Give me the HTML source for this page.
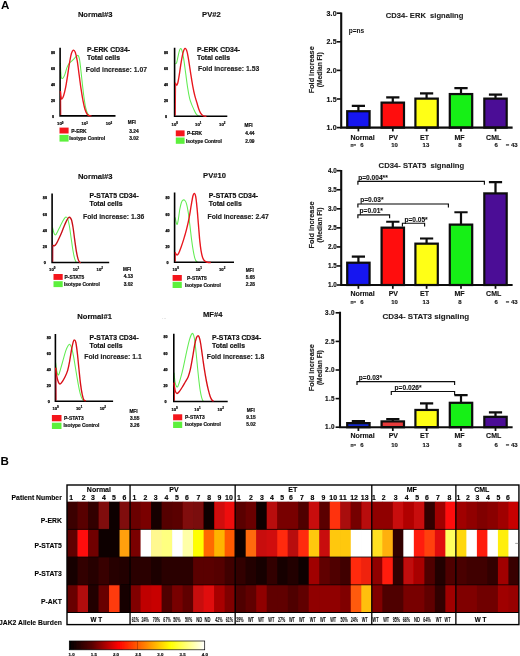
<!DOCTYPE html>
<html lang="en">
<head>
<meta charset="utf-8">
<title>Figure: phospho-flow signaling in CD34- cells</title>
<style>
html,body{margin:0;padding:0;background:#fff;}
body{width:520px;height:656px;overflow:hidden;font-family:'Liberation Sans', sans-serif;}
svg{display:block;}
svg text{font-family:'Liberation Sans', sans-serif;}
</style>
</head>
<body>
<svg width="520" height="656" viewBox="0 0 520 656">
<defs>
<linearGradient id="hot" x1="0" x2="1" y1="0" y2="0">
<stop offset="0" stop-color="#000"/><stop offset="0.17" stop-color="#5a0000"/><stop offset="0.365" stop-color="#ff0000"/><stop offset="0.55" stop-color="#ff7a00"/><stop offset="0.746" stop-color="#ffff00"/><stop offset="1" stop-color="#fff"/>
</linearGradient>
<filter id="soft" x="-2%" y="-2%" width="104%" height="104%"><feGaussianBlur stdDeviation="0.22"/></filter>
</defs>
<rect width="520" height="656" fill="#fff"/>
<g filter="url(#soft)">
<text x="0.90" y="8.50" font-size="11.6" text-anchor="start" font-weight="bold" fill="#000" >A</text>
<text x="95.20" y="17.40" font-size="7.6" text-anchor="middle" font-weight="bold" fill="#111" stroke="#111" stroke-width="0.15">Normal#3</text>
<text x="211.40" y="17.10" font-size="7.6" text-anchor="middle" font-weight="bold" fill="#111" stroke="#111" stroke-width="0.15">PV#2</text>
<text x="95.20" y="179.20" font-size="7.6" text-anchor="middle" font-weight="bold" fill="#111" stroke="#111" stroke-width="0.15">Normal#3</text>
<text x="214.50" y="178.10" font-size="7.6" text-anchor="middle" font-weight="bold" fill="#111" stroke="#111" stroke-width="0.15">PV#10</text>
<text x="94.60" y="318.50" font-size="7.6" text-anchor="middle" font-weight="bold" fill="#111" stroke="#111" stroke-width="0.15">Normal#1</text>
<text x="212.70" y="317.30" font-size="7.6" text-anchor="middle" font-weight="bold" fill="#111" stroke="#111" stroke-width="0.15">MF#4</text>
<text x="162.00" y="318.60" font-size="5" text-anchor="start" font-weight="normal" fill="#aaa" >...</text>
<path d="M60.36,63.32 C60.43,64.61 60.58,68.71 60.75,71.09 C60.92,73.46 61.03,76.38 61.40,77.56 C61.77,78.75 62.37,78.75 62.95,78.21 C63.54,77.67 64.25,76.05 64.90,74.33 C65.54,72.60 66.19,69.58 66.84,67.85 C67.49,66.12 68.03,65.04 68.78,63.96 C69.54,62.88 70.51,62.24 71.37,61.37 C72.24,60.51 73.10,59.65 73.96,58.78 C74.83,57.92 75.84,56.73 76.55,56.19 C77.27,55.65 77.74,55.00 78.24,55.54 C78.73,56.08 79.10,57.06 79.53,59.43 C79.97,61.80 80.35,65.69 80.83,69.79 C81.30,73.89 81.87,79.51 82.38,84.04 C82.90,88.58 83.40,93.11 83.94,96.99 C84.48,100.88 85.02,104.59 85.62,107.36 C86.23,110.12 86.92,112.22 87.56,113.58 C88.21,114.94 88.90,115.13 89.51,115.52 C90.11,115.91 90.91,115.84 91.19,115.91" fill="none" stroke="#62ec52" stroke-width="1.05" stroke-linejoin="round"/>
<path d="M60.1,47.8 V115.9 H115.5" fill="none" stroke="#000" stroke-width="1.6"/>
<path d="M60.85,115.10 L60.66,91.17" fill="none" stroke="#e8141c" stroke-width="1.0" opacity="0.85"/>
<path d="M60.36,91.17 C60.47,92.14 60.75,95.70 61.01,96.99 C61.27,98.29 61.49,99.15 61.92,98.94 C62.35,98.72 63.00,97.53 63.60,95.70 C64.21,93.86 64.90,91.17 65.54,87.93 C66.19,84.69 66.84,80.37 67.49,76.27 C68.13,72.17 68.78,67.09 69.43,63.32 C70.08,59.54 70.73,55.80 71.37,53.60 C72.02,51.40 72.67,50.32 73.32,50.10 C73.96,49.89 74.61,50.54 75.26,52.31 C75.91,54.08 76.55,56.95 77.20,60.73 C77.85,64.50 78.50,70.22 79.15,74.97 C79.79,79.72 80.44,84.91 81.09,89.22 C81.74,93.54 82.38,97.53 83.03,100.88 C83.68,104.23 84.33,107.14 84.97,109.30 C85.62,111.46 86.27,112.80 86.92,113.83 C87.56,114.87 88.10,115.17 88.86,115.52 C89.62,115.86 91.02,115.84 91.45,115.91" fill="none" stroke="#e8141c" stroke-width="1.35" stroke-linejoin="round"/>
<text x="53.00" y="54.10" font-size="3.7" text-anchor="middle" font-weight="bold" fill="#000" stroke="#000" stroke-width="0.25">80</text>
<text x="53.00" y="70.00" font-size="3.7" text-anchor="middle" font-weight="bold" fill="#000" stroke="#000" stroke-width="0.25">60</text>
<text x="53.00" y="86.20" font-size="3.7" text-anchor="middle" font-weight="bold" fill="#000" stroke="#000" stroke-width="0.25">40</text>
<text x="53.00" y="101.80" font-size="3.7" text-anchor="middle" font-weight="bold" fill="#000" stroke="#000" stroke-width="0.25">20</text>
<text x="53.00" y="117.80" font-size="3.7" text-anchor="middle" font-weight="bold" fill="#000" stroke="#000" stroke-width="0.25">0</text>
<text x="57.10" y="125.30" font-size="4.2" font-weight="bold" fill="#000" stroke="#000" stroke-width="0.2">10<tspan dy="-1.8" font-size="3">0</tspan></text>
<text x="81.60" y="125.30" font-size="4.2" font-weight="bold" fill="#000" stroke="#000" stroke-width="0.2">10<tspan dy="-1.8" font-size="3">1</tspan></text>
<text x="105.80" y="125.30" font-size="4.2" font-weight="bold" fill="#000" stroke="#000" stroke-width="0.2">10<tspan dy="-1.8" font-size="3">2</tspan></text>
<text x="87.00" y="51.80" font-size="6.85" text-anchor="start" font-weight="bold" fill="#111" stroke="#111" stroke-width="0.18">P-ERK CD34-</text>
<text x="87.00" y="59.70" font-size="6.85" text-anchor="start" font-weight="bold" fill="#111" stroke="#111" stroke-width="0.18">Total cells</text>
<text x="85.80" y="71.50" font-size="6.8" text-anchor="start" font-weight="bold" fill="#222" stroke="#222" stroke-width="0.15">Fold increase: 1.07</text>
<rect x="59.5" y="127.6" width="9.1" height="5.9" fill="#f4141c"/>
<rect x="59.5" y="134.9" width="9.1" height="6.7" fill="#5cf03c"/>
<text x="71.30" y="132.95" font-size="4.9" text-anchor="start" font-weight="bold" fill="#111" stroke="#111" stroke-width="0.2">P-ERK</text>
<text x="69.20" y="139.65" font-size="4.9" text-anchor="start" font-weight="bold" fill="#111" stroke="#111" stroke-width="0.2">Isotype Control</text>
<text x="127.80" y="124.40" font-size="4.7" text-anchor="start" font-weight="bold" fill="#111" stroke="#111" stroke-width="0.2">MFI</text>
<text x="129.30" y="132.90" font-size="4.8" text-anchor="start" font-weight="bold" fill="#111" stroke="#111" stroke-width="0.2">3.24</text>
<text x="129.30" y="139.60" font-size="4.8" text-anchor="start" font-weight="bold" fill="#111" stroke="#111" stroke-width="0.2">3.02</text>
<path d="M175.36,63.96 C175.58,63.75 176.23,63.86 176.66,62.67 C177.09,61.48 177.48,58.89 177.95,56.84 C178.43,54.79 179.03,51.77 179.51,50.36 C179.98,48.96 180.37,48.31 180.80,48.42 C181.23,48.53 181.60,49.18 182.10,51.01 C182.59,52.85 183.18,55.65 183.78,59.43 C184.39,63.21 185.08,68.93 185.73,73.68 C186.37,78.43 187.02,83.83 187.67,87.93 C188.32,92.03 188.96,95.59 189.61,98.29 C190.26,100.99 190.91,102.39 191.55,104.12 C192.20,105.85 192.74,107.03 193.50,108.65 C194.25,110.27 195.22,112.60 196.09,113.83 C196.95,115.06 197.82,115.60 198.68,116.04 C199.54,116.47 200.84,116.36 201.27,116.42" fill="none" stroke="#62ec52" stroke-width="1.05" stroke-linejoin="round"/>
<path d="M174.6,47.8 V116.3 H227.3" fill="none" stroke="#000" stroke-width="1.6"/>
<path d="M175.35,115.50 L175.66,82.75" fill="none" stroke="#e8141c" stroke-width="1.0" opacity="0.85"/>
<path d="M175.36,82.75 C175.54,83.13 176.01,84.97 176.40,85.08 C176.79,85.19 177.22,85.08 177.69,83.39 C178.17,81.71 178.67,78.54 179.25,74.97 C179.83,71.41 180.54,65.80 181.19,62.02 C181.84,58.24 182.49,54.57 183.13,52.31 C183.78,50.04 184.43,48.53 185.08,48.42 C185.73,48.31 186.37,49.39 187.02,51.66 C187.67,53.92 188.32,58.13 188.96,62.02 C189.61,65.91 190.26,70.87 190.91,74.97 C191.55,79.08 192.20,83.18 192.85,86.63 C193.50,90.09 194.15,93.11 194.79,95.70 C195.44,98.29 196.09,100.02 196.74,102.18 C197.38,104.34 198.03,106.82 198.68,108.65 C199.33,110.49 199.87,112.00 200.62,113.19 C201.38,114.37 202.24,115.24 203.21,115.78 C204.18,116.32 205.91,116.32 206.45,116.42" fill="none" stroke="#e8141c" stroke-width="1.35" stroke-linejoin="round"/>
<text x="166.00" y="54.10" font-size="3.7" text-anchor="middle" font-weight="bold" fill="#000" stroke="#000" stroke-width="0.25">80</text>
<text x="166.00" y="70.00" font-size="3.7" text-anchor="middle" font-weight="bold" fill="#000" stroke="#000" stroke-width="0.25">60</text>
<text x="166.00" y="86.20" font-size="3.7" text-anchor="middle" font-weight="bold" fill="#000" stroke="#000" stroke-width="0.25">40</text>
<text x="166.00" y="101.80" font-size="3.7" text-anchor="middle" font-weight="bold" fill="#000" stroke="#000" stroke-width="0.25">20</text>
<text x="166.00" y="118.00" font-size="3.7" text-anchor="middle" font-weight="bold" fill="#000" stroke="#000" stroke-width="0.25">0</text>
<text x="171.60" y="125.70" font-size="4.2" font-weight="bold" fill="#000" stroke="#000" stroke-width="0.2">10<tspan dy="-1.8" font-size="3">0</tspan></text>
<text x="195.10" y="125.70" font-size="4.2" font-weight="bold" fill="#000" stroke="#000" stroke-width="0.2">10<tspan dy="-1.8" font-size="3">1</tspan></text>
<text x="219.10" y="125.70" font-size="4.2" font-weight="bold" fill="#000" stroke="#000" stroke-width="0.2">10<tspan dy="-1.8" font-size="3">2</tspan></text>
<text x="197.00" y="51.80" font-size="6.85" text-anchor="start" font-weight="bold" fill="#111" stroke="#111" stroke-width="0.18">P-ERK CD34-</text>
<text x="197.00" y="59.70" font-size="6.85" text-anchor="start" font-weight="bold" fill="#111" stroke="#111" stroke-width="0.18">Total cells</text>
<text x="198.00" y="70.60" font-size="6.8" text-anchor="start" font-weight="bold" fill="#222" stroke="#222" stroke-width="0.15">Fold increase: 1.53</text>
<rect x="175.8" y="130.4" width="8.8" height="5.9" fill="#f4141c"/>
<rect x="175.8" y="137.5" width="8.8" height="6.3" fill="#5cf03c"/>
<text x="186.90" y="135.45" font-size="4.9" text-anchor="start" font-weight="bold" fill="#111" stroke="#111" stroke-width="0.2">P-ERK</text>
<text x="186.00" y="142.55" font-size="4.9" text-anchor="start" font-weight="bold" fill="#111" stroke="#111" stroke-width="0.2">Isotype Control</text>
<text x="244.60" y="127.30" font-size="4.7" text-anchor="start" font-weight="bold" fill="#111" stroke="#111" stroke-width="0.2">MFI</text>
<text x="245.20" y="135.40" font-size="4.8" text-anchor="start" font-weight="bold" fill="#111" stroke="#111" stroke-width="0.2">4.44</text>
<text x="245.20" y="142.50" font-size="4.8" text-anchor="start" font-weight="bold" fill="#111" stroke="#111" stroke-width="0.2">2.09</text>
<path d="M52.62,227.75 C52.84,228.61 53.42,231.74 53.92,232.93 C54.41,234.11 55.00,235.09 55.60,234.87 C56.21,234.65 56.79,233.04 57.54,231.63 C58.30,230.23 59.27,228.18 60.13,226.45 C61.00,224.72 61.97,222.67 62.73,221.27 C63.48,219.87 64.06,218.72 64.67,218.03 C65.27,217.34 65.81,216.91 66.35,217.12 C66.89,217.34 67.39,217.77 67.91,219.33 C68.42,220.88 68.92,223.32 69.46,226.45 C70.00,229.58 70.58,234.22 71.15,238.11 C71.71,241.99 72.29,246.53 72.83,249.77 C73.37,253.01 73.87,255.55 74.38,257.54 C74.90,259.53 75.46,260.82 75.94,261.68 C76.41,262.55 77.02,262.55 77.23,262.72" fill="none" stroke="#62ec52" stroke-width="1.05" stroke-linejoin="round"/>
<path d="M52.1,193.5 V262.5 H109.2" fill="none" stroke="#000" stroke-width="1.6"/>
<path d="M52.85,261.70 L52.92,245.23" fill="none" stroke="#c80c14" stroke-width="1.0" opacity="0.85"/>
<path d="M52.62,245.23 C52.90,245.34 53.70,246.10 54.31,245.88 C54.91,245.66 55.49,245.13 56.25,243.94 C57.00,242.75 57.98,240.59 58.84,238.76 C59.70,236.92 60.57,234.98 61.43,232.93 C62.29,230.88 63.16,228.50 64.02,226.45 C64.88,224.40 65.86,222.09 66.61,220.62 C67.37,219.15 68.01,218.18 68.55,217.64 C69.09,217.10 69.35,216.99 69.85,217.38 C70.35,217.77 70.99,218.25 71.53,219.97 C72.07,221.70 72.57,224.51 73.09,227.75 C73.61,230.98 74.10,235.52 74.64,239.40 C75.18,243.29 75.77,247.82 76.33,251.06 C76.89,254.30 77.47,257.00 78.01,258.83 C78.55,260.67 79.09,261.42 79.56,262.07 C80.04,262.72 80.64,262.61 80.86,262.72" fill="none" stroke="#c80c14" stroke-width="1.35" stroke-linejoin="round"/>
<text x="44.90" y="199.30" font-size="3.7" text-anchor="middle" font-weight="bold" fill="#000" stroke="#000" stroke-width="0.25">80</text>
<text x="44.90" y="215.50" font-size="3.7" text-anchor="middle" font-weight="bold" fill="#000" stroke="#000" stroke-width="0.25">60</text>
<text x="44.90" y="231.80" font-size="3.7" text-anchor="middle" font-weight="bold" fill="#000" stroke="#000" stroke-width="0.25">40</text>
<text x="44.90" y="248.00" font-size="3.7" text-anchor="middle" font-weight="bold" fill="#000" stroke="#000" stroke-width="0.25">20</text>
<text x="44.90" y="264.30" font-size="3.7" text-anchor="middle" font-weight="bold" fill="#000" stroke="#000" stroke-width="0.25">0</text>
<text x="49.10" y="271.10" font-size="4.2" font-weight="bold" fill="#000" stroke="#000" stroke-width="0.2">10<tspan dy="-1.8" font-size="3">0</tspan></text>
<text x="72.80" y="271.10" font-size="4.2" font-weight="bold" fill="#000" stroke="#000" stroke-width="0.2">10<tspan dy="-1.8" font-size="3">1</tspan></text>
<text x="96.60" y="271.10" font-size="4.2" font-weight="bold" fill="#000" stroke="#000" stroke-width="0.2">10<tspan dy="-1.8" font-size="3">2</tspan></text>
<text x="89.50" y="198.20" font-size="6.85" text-anchor="start" font-weight="bold" fill="#111" stroke="#111" stroke-width="0.18">P-STAT5 CD34-</text>
<text x="89.50" y="206.10" font-size="6.85" text-anchor="start" font-weight="bold" fill="#111" stroke="#111" stroke-width="0.18">Total cells</text>
<text x="83.00" y="218.90" font-size="6.8" text-anchor="start" font-weight="bold" fill="#222" stroke="#222" stroke-width="0.15">Fold increase: 1.36</text>
<rect x="53.5" y="274" width="9.2" height="5.9" fill="#f4141c"/>
<rect x="53.5" y="281.2" width="9.2" height="5.9" fill="#5cf03c"/>
<text x="64.60" y="279.05" font-size="4.9" text-anchor="start" font-weight="bold" fill="#111" stroke="#111" stroke-width="0.2">P-STAT5</text>
<text x="64.00" y="285.95" font-size="4.9" text-anchor="start" font-weight="bold" fill="#111" stroke="#111" stroke-width="0.2">Isotype Control</text>
<text x="123.00" y="270.90" font-size="4.7" text-anchor="start" font-weight="bold" fill="#111" stroke="#111" stroke-width="0.2">MFI</text>
<text x="123.70" y="278.20" font-size="4.8" text-anchor="start" font-weight="bold" fill="#111" stroke="#111" stroke-width="0.2">4.13</text>
<text x="123.70" y="285.90" font-size="4.8" text-anchor="start" font-weight="bold" fill="#111" stroke="#111" stroke-width="0.2">3.02</text>
<path d="M175.09,217.30 C175.32,218.31 176.06,222.24 176.44,223.36 C176.82,224.48 177.05,224.82 177.38,224.03 C177.72,223.25 178.06,221.11 178.46,218.65 C178.86,216.18 179.31,211.92 179.80,209.23 C180.30,206.53 180.86,204.02 181.42,202.50 C181.98,200.97 182.59,200.41 183.17,200.07 C183.75,199.74 184.36,199.85 184.92,200.48 C185.48,201.11 186.00,201.94 186.53,203.84 C187.07,205.75 187.59,208.33 188.15,211.92 C188.71,215.51 189.32,220.67 189.90,225.38 C190.48,230.09 191.09,235.92 191.65,240.18 C192.21,244.44 192.73,247.92 193.26,250.95 C193.80,253.98 194.32,256.56 194.88,258.35 C195.44,260.15 196.00,261.02 196.63,261.72 C197.26,262.41 198.31,262.39 198.65,262.52" fill="none" stroke="#62ec52" stroke-width="1.05" stroke-linejoin="round"/>
<path d="M174.6,192.4 V262.3 H234" fill="none" stroke="#000" stroke-width="1.6"/>
<path d="M175.35,261.50 L175.39,252.29" fill="none" stroke="#e8141c" stroke-width="1.0" opacity="0.85"/>
<path d="M175.09,252.29 C175.39,252.74 176.28,254.76 176.84,254.99 C177.40,255.21 177.74,254.99 178.46,253.64 C179.18,252.29 180.25,249.38 181.15,246.91 C182.05,244.44 182.95,241.75 183.84,238.84 C184.74,235.92 185.64,233.00 186.53,229.41 C187.43,225.83 188.44,221.34 189.23,217.30 C190.01,213.26 190.62,208.78 191.24,205.19 C191.87,201.60 192.48,197.74 192.99,195.77 C193.51,193.79 193.89,193.23 194.34,193.34 C194.79,193.46 195.24,194.02 195.69,196.44 C196.14,198.86 196.58,203.28 197.03,207.88 C197.48,212.48 197.93,218.65 198.38,224.03 C198.83,229.41 199.28,235.70 199.72,240.18 C200.17,244.67 200.58,248.03 201.07,250.95 C201.56,253.86 202.08,256.00 202.69,257.68 C203.29,259.36 203.92,260.28 204.70,261.04 C205.49,261.81 206.39,262.01 207.40,262.25 C208.41,262.50 210.20,262.48 210.76,262.52" fill="none" stroke="#e8141c" stroke-width="1.35" stroke-linejoin="round"/>
<text x="167.50" y="199.30" font-size="3.7" text-anchor="middle" font-weight="bold" fill="#000" stroke="#000" stroke-width="0.25">80</text>
<text x="167.50" y="215.50" font-size="3.7" text-anchor="middle" font-weight="bold" fill="#000" stroke="#000" stroke-width="0.25">60</text>
<text x="167.50" y="231.80" font-size="3.7" text-anchor="middle" font-weight="bold" fill="#000" stroke="#000" stroke-width="0.25">40</text>
<text x="167.50" y="248.00" font-size="3.7" text-anchor="middle" font-weight="bold" fill="#000" stroke="#000" stroke-width="0.25">20</text>
<text x="167.50" y="264.30" font-size="3.7" text-anchor="middle" font-weight="bold" fill="#000" stroke="#000" stroke-width="0.25">0</text>
<text x="172.50" y="270.50" font-size="4.2" font-weight="bold" fill="#000" stroke="#000" stroke-width="0.2">10<tspan dy="-1.8" font-size="3">0</tspan></text>
<text x="195.70" y="270.50" font-size="4.2" font-weight="bold" fill="#000" stroke="#000" stroke-width="0.2">10<tspan dy="-1.8" font-size="3">1</tspan></text>
<text x="219.00" y="270.50" font-size="4.2" font-weight="bold" fill="#000" stroke="#000" stroke-width="0.2">10<tspan dy="-1.8" font-size="3">2</tspan></text>
<text x="208.80" y="198.20" font-size="6.85" text-anchor="start" font-weight="bold" fill="#111" stroke="#111" stroke-width="0.18">P-STAT5 CD34-</text>
<text x="208.80" y="206.10" font-size="6.85" text-anchor="start" font-weight="bold" fill="#111" stroke="#111" stroke-width="0.18">Total cells</text>
<text x="207.50" y="218.90" font-size="6.8" text-anchor="start" font-weight="bold" fill="#222" stroke="#222" stroke-width="0.15">Fold increase: 2.47</text>
<rect x="172.6" y="275" width="9.2" height="5.8" fill="#f4141c"/>
<rect x="172.6" y="281.8" width="9.2" height="6.2" fill="#5cf03c"/>
<text x="187.00" y="279.65" font-size="4.9" text-anchor="start" font-weight="bold" fill="#111" stroke="#111" stroke-width="0.2">P-STAT5</text>
<text x="185.00" y="286.65" font-size="4.9" text-anchor="start" font-weight="bold" fill="#111" stroke="#111" stroke-width="0.2">Isotype Control</text>
<text x="245.70" y="272.40" font-size="4.7" text-anchor="start" font-weight="bold" fill="#111" stroke="#111" stroke-width="0.2">MFI</text>
<text x="245.70" y="279.20" font-size="4.8" text-anchor="start" font-weight="bold" fill="#111" stroke="#111" stroke-width="0.2">5.65</text>
<text x="245.70" y="286.20" font-size="4.8" text-anchor="start" font-weight="bold" fill="#111" stroke="#111" stroke-width="0.2">2.28</text>
<path d="M55.62,362.56 C55.84,364.08 56.42,369.58 56.92,371.63 C57.41,373.68 58.00,375.30 58.60,374.87 C59.21,374.44 59.79,371.52 60.54,369.04 C61.30,366.56 62.27,363.00 63.13,359.97 C64.00,356.95 64.91,353.28 65.73,350.91 C66.55,348.53 67.37,346.80 68.06,345.73 C68.75,344.65 69.29,344.11 69.87,344.43 C70.45,344.75 70.95,345.73 71.55,347.67 C72.16,349.61 72.85,352.74 73.50,356.09 C74.15,359.43 74.79,363.86 75.44,367.75 C76.09,371.63 76.74,375.73 77.38,379.40 C78.03,383.07 78.68,386.85 79.33,389.77 C79.97,392.68 80.62,395.12 81.27,396.89 C81.92,398.66 82.56,399.70 83.21,400.39 C83.86,401.08 84.83,400.93 85.16,401.04" fill="none" stroke="#62ec52" stroke-width="1.05" stroke-linejoin="round"/>
<path d="M55.4,334 V401.2 H113.1" fill="none" stroke="#000" stroke-width="1.6"/>
<path d="M56.15,400.40 L55.92,367.75" fill="none" stroke="#d80c14" stroke-width="1.0" opacity="0.85"/>
<path d="M55.62,367.75 C55.84,369.26 56.42,374.33 56.92,376.81 C57.41,379.30 58.04,381.46 58.60,382.64 C59.16,383.83 59.64,384.15 60.28,383.94 C60.93,383.72 61.69,382.53 62.49,381.35 C63.29,380.16 64.21,378.65 65.08,376.81 C65.94,374.98 66.91,372.93 67.67,370.34 C68.42,367.75 68.96,364.72 69.61,361.27 C70.26,357.82 70.95,352.85 71.55,349.61 C72.16,346.37 72.74,343.46 73.24,341.84 C73.73,340.22 74.10,339.79 74.53,339.90 C74.97,340.00 75.35,340.22 75.83,342.49 C76.30,344.75 76.87,349.07 77.38,353.50 C77.90,357.92 78.40,363.86 78.94,369.04 C79.48,374.22 80.06,380.27 80.62,384.59 C81.18,388.90 81.77,392.40 82.31,394.95 C82.85,397.50 83.28,398.86 83.86,399.87 C84.44,400.89 85.48,400.84 85.80,401.04" fill="none" stroke="#d80c14" stroke-width="1.35" stroke-linejoin="round"/>
<text x="48.80" y="339.30" font-size="3.7" text-anchor="middle" font-weight="bold" fill="#000" stroke="#000" stroke-width="0.25">80</text>
<text x="48.80" y="355.10" font-size="3.7" text-anchor="middle" font-weight="bold" fill="#000" stroke="#000" stroke-width="0.25">60</text>
<text x="48.80" y="371.10" font-size="3.7" text-anchor="middle" font-weight="bold" fill="#000" stroke="#000" stroke-width="0.25">40</text>
<text x="48.80" y="386.80" font-size="3.7" text-anchor="middle" font-weight="bold" fill="#000" stroke="#000" stroke-width="0.25">20</text>
<text x="48.80" y="403.10" font-size="3.7" text-anchor="middle" font-weight="bold" fill="#000" stroke="#000" stroke-width="0.25">0</text>
<text x="52.40" y="410.20" font-size="4.2" font-weight="bold" fill="#000" stroke="#000" stroke-width="0.2">10<tspan dy="-1.8" font-size="3">0</tspan></text>
<text x="76.00" y="410.20" font-size="4.2" font-weight="bold" fill="#000" stroke="#000" stroke-width="0.2">10<tspan dy="-1.8" font-size="3">1</tspan></text>
<text x="99.70" y="410.20" font-size="4.2" font-weight="bold" fill="#000" stroke="#000" stroke-width="0.2">10<tspan dy="-1.8" font-size="3">2</tspan></text>
<text x="89.50" y="339.70" font-size="6.85" text-anchor="start" font-weight="bold" fill="#111" stroke="#111" stroke-width="0.18">P-STAT3 CD34-</text>
<text x="89.50" y="347.60" font-size="6.85" text-anchor="start" font-weight="bold" fill="#111" stroke="#111" stroke-width="0.18">Total cells</text>
<text x="84.30" y="358.90" font-size="6.8" text-anchor="start" font-weight="bold" fill="#222" stroke="#222" stroke-width="0.15">Fold increase: 1.1</text>
<rect x="51.9" y="415" width="9.6" height="6.3" fill="#f4141c"/>
<rect x="51.9" y="422.7" width="9.6" height="6.3" fill="#5cf03c"/>
<text x="64.00" y="420.25" font-size="4.9" text-anchor="start" font-weight="bold" fill="#111" stroke="#111" stroke-width="0.2">P-STAT3</text>
<text x="63.50" y="427.35" font-size="4.9" text-anchor="start" font-weight="bold" fill="#111" stroke="#111" stroke-width="0.2">Isotype Control</text>
<text x="129.40" y="412.50" font-size="4.7" text-anchor="start" font-weight="bold" fill="#111" stroke="#111" stroke-width="0.2">MFI</text>
<text x="130.00" y="419.60" font-size="4.8" text-anchor="start" font-weight="bold" fill="#111" stroke="#111" stroke-width="0.2">3.55</text>
<text x="130.00" y="426.90" font-size="4.8" text-anchor="start" font-weight="bold" fill="#111" stroke="#111" stroke-width="0.2">3.26</text>
<path d="M173.99,372.60 C174.18,374.28 174.64,380.29 175.14,382.70 C175.65,385.10 176.42,386.78 177.02,387.02 C177.62,387.26 178.10,385.82 178.75,384.14 C179.40,382.45 180.19,379.57 180.91,376.93 C181.64,374.28 182.36,371.40 183.08,368.27 C183.80,365.15 184.52,361.54 185.24,358.17 C185.96,354.81 186.68,351.20 187.41,348.08 C188.13,344.95 188.90,341.71 189.57,339.42 C190.24,337.14 190.89,335.34 191.44,334.38 C192.00,333.41 192.41,333.05 192.89,333.65 C193.37,334.26 193.85,335.34 194.33,337.98 C194.81,340.63 195.29,345.19 195.77,349.52 C196.25,353.85 196.73,359.14 197.21,363.94 C197.69,368.75 198.17,374.04 198.66,378.37 C199.14,382.70 199.62,386.78 200.10,389.91 C200.58,393.03 201.08,395.32 201.54,397.12 C202.00,398.92 202.48,400.05 202.84,400.72 C203.20,401.40 203.56,401.09 203.70,401.16" fill="none" stroke="#62ec52" stroke-width="1.05" stroke-linejoin="round"/>
<path d="M173.8,333.7 V401.5 H227.7" fill="none" stroke="#000" stroke-width="1.6"/>
<path d="M174.55,400.70 L174.29,382.70" fill="none" stroke="#d80c14" stroke-width="1.0" opacity="0.85"/>
<path d="M173.99,382.70 C174.18,384.02 174.64,388.83 175.14,390.63 C175.65,392.43 176.30,393.39 177.02,393.51 C177.74,393.63 178.58,392.43 179.47,391.35 C180.36,390.27 181.40,388.58 182.36,387.02 C183.32,385.46 184.28,383.66 185.24,381.97 C186.20,380.29 187.28,378.97 188.13,376.93 C188.97,374.88 189.57,372.84 190.29,369.71 C191.01,366.59 191.73,362.26 192.45,358.17 C193.17,354.09 193.97,348.56 194.62,345.19 C195.27,341.83 195.82,339.54 196.35,337.98 C196.88,336.42 197.31,335.94 197.79,335.82 C198.27,335.70 198.75,335.94 199.23,337.26 C199.71,338.58 200.12,340.51 200.68,343.75 C201.23,347.00 201.93,352.41 202.55,356.73 C203.18,361.06 203.78,365.63 204.43,369.71 C205.07,373.80 205.80,377.89 206.44,381.25 C207.09,384.62 207.69,387.38 208.32,389.91 C208.94,392.43 209.59,394.71 210.19,396.40 C210.80,398.08 211.35,399.21 211.93,400.00 C212.50,400.80 213.37,400.97 213.66,401.16" fill="none" stroke="#d80c14" stroke-width="1.35" stroke-linejoin="round"/>
<text x="165.50" y="338.30" font-size="3.7" text-anchor="middle" font-weight="bold" fill="#000" stroke="#000" stroke-width="0.25">80</text>
<text x="165.50" y="354.90" font-size="3.7" text-anchor="middle" font-weight="bold" fill="#000" stroke="#000" stroke-width="0.25">60</text>
<text x="165.50" y="371.20" font-size="3.7" text-anchor="middle" font-weight="bold" fill="#000" stroke="#000" stroke-width="0.25">40</text>
<text x="165.50" y="387.40" font-size="3.7" text-anchor="middle" font-weight="bold" fill="#000" stroke="#000" stroke-width="0.25">20</text>
<text x="165.50" y="403.00" font-size="3.7" text-anchor="middle" font-weight="bold" fill="#000" stroke="#000" stroke-width="0.25">0</text>
<text x="171.40" y="410.50" font-size="4.2" font-weight="bold" fill="#000" stroke="#000" stroke-width="0.2">10<tspan dy="-1.8" font-size="3">0</tspan></text>
<text x="194.30" y="410.50" font-size="4.2" font-weight="bold" fill="#000" stroke="#000" stroke-width="0.2">10<tspan dy="-1.8" font-size="3">1</tspan></text>
<text x="217.50" y="410.50" font-size="4.2" font-weight="bold" fill="#000" stroke="#000" stroke-width="0.2">10<tspan dy="-1.8" font-size="3">2</tspan></text>
<text x="212.00" y="339.70" font-size="6.85" text-anchor="start" font-weight="bold" fill="#111" stroke="#111" stroke-width="0.18">P-STAT3 CD34-</text>
<text x="212.00" y="347.60" font-size="6.85" text-anchor="start" font-weight="bold" fill="#111" stroke="#111" stroke-width="0.18">Total cells</text>
<text x="206.80" y="358.90" font-size="6.8" text-anchor="start" font-weight="bold" fill="#222" stroke="#222" stroke-width="0.15">Fold increase: 1.8</text>
<rect x="173.1" y="414.3" width="9.1" height="6" fill="#f4141c"/>
<rect x="173.1" y="421.7" width="9.1" height="6.3" fill="#5cf03c"/>
<text x="185.00" y="419.25" font-size="4.9" text-anchor="start" font-weight="bold" fill="#111" stroke="#111" stroke-width="0.2">P-STAT3</text>
<text x="185.00" y="426.05" font-size="4.9" text-anchor="start" font-weight="bold" fill="#111" stroke="#111" stroke-width="0.2">Isotype Control</text>
<text x="246.70" y="412.20" font-size="4.7" text-anchor="start" font-weight="bold" fill="#111" stroke="#111" stroke-width="0.2">MFI</text>
<text x="246.30" y="418.60" font-size="4.8" text-anchor="start" font-weight="bold" fill="#111" stroke="#111" stroke-width="0.2">9.15</text>
<text x="246.30" y="425.50" font-size="4.8" text-anchor="start" font-weight="bold" fill="#111" stroke="#111" stroke-width="0.2">5.02</text>
<path d="M358.4,111.01199999999999 V105.864 M351.79999999999995,105.864 H365.0" stroke="#0a0a0a" stroke-width="2.2" fill="none"/>
<rect x="347.20" y="111.21" width="22.40" height="16.39" fill="#1414f0" stroke="#0a0a0a" stroke-width="2.2"/>
<path d="M358.4,127.6 v3.8" stroke="#0a0a0a" stroke-width="1.7"/>
<path d="M392.8,102.43199999999999 V97.28399999999999 M386.2,97.28399999999999 H399.40000000000003" stroke="#0a0a0a" stroke-width="2.2" fill="none"/>
<rect x="381.60" y="102.63" width="22.40" height="24.97" fill="#ff0a0a" stroke="#0a0a0a" stroke-width="2.2"/>
<path d="M392.8,127.6 v3.8" stroke="#0a0a0a" stroke-width="1.7"/>
<path d="M426.6,98.428 V93.27999999999999 M420.0,93.27999999999999 H433.20000000000005" stroke="#0a0a0a" stroke-width="2.2" fill="none"/>
<rect x="415.40" y="98.63" width="22.40" height="28.97" fill="#ffff14" stroke="#0a0a0a" stroke-width="2.2"/>
<path d="M426.6,127.6 v3.8" stroke="#0a0a0a" stroke-width="1.7"/>
<path d="M461.0,93.85199999999999 V88.132 M454.4,88.132 H467.6" stroke="#0a0a0a" stroke-width="2.2" fill="none"/>
<rect x="449.80" y="94.05" width="22.40" height="33.55" fill="#14f014" stroke="#0a0a0a" stroke-width="2.2"/>
<path d="M461.0,127.6 v3.8" stroke="#0a0a0a" stroke-width="1.7"/>
<path d="M495.5,98.428 V94.71 M488.9,94.71 H502.1" stroke="#0a0a0a" stroke-width="2.2" fill="none"/>
<rect x="484.30" y="98.63" width="22.40" height="28.97" fill="#4b0a96" stroke="#0a0a0a" stroke-width="2.2"/>
<path d="M495.5,127.6 v3.8" stroke="#0a0a0a" stroke-width="1.7"/>
<path d="M341.2,12.5 V127.6 H512.6" fill="none" stroke="#0a0a0a" stroke-width="2.1"/>
<path d="M336.8,127.6 H341.2" stroke="#0a0a0a" stroke-width="1.6"/>
<text x="336.80" y="130.12" font-size="7.0" text-anchor="end" font-weight="bold" fill="#111" letter-spacing="0.2" stroke="#111" stroke-width="0.15">1.0</text>
<path d="M336.8,99.0 H341.2" stroke="#0a0a0a" stroke-width="1.6"/>
<text x="336.80" y="101.52" font-size="7.0" text-anchor="end" font-weight="bold" fill="#111" letter-spacing="0.2" stroke="#111" stroke-width="0.15">1.5</text>
<path d="M336.8,70.39999999999999 H341.2" stroke="#0a0a0a" stroke-width="1.6"/>
<text x="336.80" y="72.92" font-size="7.0" text-anchor="end" font-weight="bold" fill="#111" letter-spacing="0.2" stroke="#111" stroke-width="0.15">2.0</text>
<path d="M336.8,41.79999999999998 H341.2" stroke="#0a0a0a" stroke-width="1.6"/>
<text x="336.80" y="44.32" font-size="7.0" text-anchor="end" font-weight="bold" fill="#111" letter-spacing="0.2" stroke="#111" stroke-width="0.15">2.5</text>
<path d="M336.8,13.199999999999989 H341.2" stroke="#0a0a0a" stroke-width="1.6"/>
<text x="336.80" y="15.72" font-size="7.0" text-anchor="end" font-weight="bold" fill="#111" letter-spacing="0.2" stroke="#111" stroke-width="0.15">3.0</text>
<text x="385.80" y="18.10" font-size="7.6" text-anchor="start" font-weight="bold" fill="#222" xml:space="preserve" stroke="#222" stroke-width="0.1" textLength="77.6" lengthAdjust="spacingAndGlyphs">CD34- ERK  signaling</text>
<text transform="translate(314.2,69.8) rotate(-90)" font-size="7.3" font-weight="bold" text-anchor="middle" fill="#222" stroke="#222" stroke-width="0.15">Fold increase</text>
<text transform="translate(322,69.8) rotate(-90)" font-size="6.6" font-weight="bold" text-anchor="middle" fill="#222" stroke="#222" stroke-width="0.15">(Median FI)</text>
<text x="362.60" y="139.90" font-size="7" text-anchor="middle" font-weight="bold" fill="#111" stroke="#111" stroke-width="0.12">Normal</text>
<text x="393.30" y="139.90" font-size="7" text-anchor="middle" font-weight="bold" fill="#111" stroke="#111" stroke-width="0.12">PV</text>
<text x="424.60" y="139.90" font-size="7" text-anchor="middle" font-weight="bold" fill="#111" stroke="#111" stroke-width="0.12">ET</text>
<text x="459.60" y="139.90" font-size="7" text-anchor="middle" font-weight="bold" fill="#111" stroke="#111" stroke-width="0.12">MF</text>
<text x="493.70" y="139.90" font-size="7" text-anchor="middle" font-weight="bold" fill="#111" stroke="#111" stroke-width="0.12">CML</text>
<text x="350.40" y="147.40" font-size="6.0" text-anchor="start" font-weight="bold" fill="#111" stroke="#111" stroke-width="0.12" textLength="5.8" lengthAdjust="spacingAndGlyphs">n=</text>
<text x="362.00" y="147.40" font-size="6.0" text-anchor="middle" font-weight="bold" fill="#111" stroke="#111" stroke-width="0.12">6</text>
<text x="394.60" y="147.40" font-size="6.0" text-anchor="middle" font-weight="bold" fill="#111" stroke="#111" stroke-width="0.12">10</text>
<text x="425.90" y="147.40" font-size="6.0" text-anchor="middle" font-weight="bold" fill="#111" stroke="#111" stroke-width="0.12">13</text>
<text x="460.00" y="147.40" font-size="6.0" text-anchor="middle" font-weight="bold" fill="#111" stroke="#111" stroke-width="0.12">8</text>
<text x="496.20" y="147.40" font-size="6.0" text-anchor="middle" font-weight="bold" fill="#111" stroke="#111" stroke-width="0.12">6</text>
<text x="505.80" y="147.40" font-size="6.0" text-anchor="start" font-weight="bold" fill="#111" stroke="#111" stroke-width="0.12">= 43</text>
<text x="348.70" y="32.80" font-size="6.6" text-anchor="start" font-weight="bold" fill="#111" >p=ns</text>
<path d="M358.4,262.521 V256.6155 M351.79999999999995,256.6155 H365.0" stroke="#0a0a0a" stroke-width="2.2" fill="none"/>
<rect x="347.20" y="262.72" width="22.40" height="22.28" fill="#1414f0" stroke="#0a0a0a" stroke-width="2.2"/>
<path d="M358.4,285 v3.8" stroke="#0a0a0a" stroke-width="1.7"/>
<path d="M392.8,227.469 V221.754 M386.2,221.754 H399.40000000000003" stroke="#0a0a0a" stroke-width="2.2" fill="none"/>
<rect x="381.60" y="227.67" width="22.40" height="57.33" fill="#ff0a0a" stroke="#0a0a0a" stroke-width="2.2"/>
<path d="M392.8,285 v3.8" stroke="#0a0a0a" stroke-width="1.7"/>
<path d="M426.6,243.471 V238.518 M420.0,238.518 H433.20000000000005" stroke="#0a0a0a" stroke-width="2.2" fill="none"/>
<rect x="415.40" y="243.67" width="22.40" height="41.33" fill="#ffff14" stroke="#0a0a0a" stroke-width="2.2"/>
<path d="M426.6,285 v3.8" stroke="#0a0a0a" stroke-width="1.7"/>
<path d="M461.0,224.421 V212.22899999999998 M454.4,212.22899999999998 H467.6" stroke="#0a0a0a" stroke-width="2.2" fill="none"/>
<rect x="449.80" y="224.62" width="22.40" height="60.38" fill="#14f014" stroke="#0a0a0a" stroke-width="2.2"/>
<path d="M461.0,285 v3.8" stroke="#0a0a0a" stroke-width="1.7"/>
<path d="M495.5,193.17899999999997 V182.13 M488.9,182.13 H502.1" stroke="#0a0a0a" stroke-width="2.2" fill="none"/>
<rect x="484.30" y="193.38" width="22.40" height="91.62" fill="#4b0a96" stroke="#0a0a0a" stroke-width="2.2"/>
<path d="M495.5,285 v3.8" stroke="#0a0a0a" stroke-width="1.7"/>
<path d="M341.2,169.9 V285 H512.6" fill="none" stroke="#0a0a0a" stroke-width="2.1"/>
<path d="M336.8,285.0 H341.2" stroke="#0a0a0a" stroke-width="1.6"/>
<text x="336.80" y="287.27" font-size="6.3" text-anchor="end" font-weight="bold" fill="#111" letter-spacing="0" stroke="#111" stroke-width="0.15">1.0</text>
<path d="M336.8,265.95 H341.2" stroke="#0a0a0a" stroke-width="1.6"/>
<text x="336.80" y="268.22" font-size="6.3" text-anchor="end" font-weight="bold" fill="#111" letter-spacing="0" stroke="#111" stroke-width="0.15">1.5</text>
<path d="M336.8,246.9 H341.2" stroke="#0a0a0a" stroke-width="1.6"/>
<text x="336.80" y="249.17" font-size="6.3" text-anchor="end" font-weight="bold" fill="#111" letter-spacing="0" stroke="#111" stroke-width="0.15">2.0</text>
<path d="M336.8,227.85 H341.2" stroke="#0a0a0a" stroke-width="1.6"/>
<text x="336.80" y="230.12" font-size="6.3" text-anchor="end" font-weight="bold" fill="#111" letter-spacing="0" stroke="#111" stroke-width="0.15">2.5</text>
<path d="M336.8,208.8 H341.2" stroke="#0a0a0a" stroke-width="1.6"/>
<text x="336.80" y="211.07" font-size="6.3" text-anchor="end" font-weight="bold" fill="#111" letter-spacing="0" stroke="#111" stroke-width="0.15">3.0</text>
<path d="M336.8,189.75 H341.2" stroke="#0a0a0a" stroke-width="1.6"/>
<text x="336.80" y="192.02" font-size="6.3" text-anchor="end" font-weight="bold" fill="#111" letter-spacing="0" stroke="#111" stroke-width="0.15">3.5</text>
<path d="M336.8,170.7 H341.2" stroke="#0a0a0a" stroke-width="1.6"/>
<text x="336.80" y="172.97" font-size="6.3" text-anchor="end" font-weight="bold" fill="#111" letter-spacing="0" stroke="#111" stroke-width="0.15">4.0</text>
<text x="378.60" y="167.60" font-size="7.6" text-anchor="start" font-weight="bold" fill="#222" xml:space="preserve" stroke="#222" stroke-width="0.1" textLength="85.6" lengthAdjust="spacingAndGlyphs">CD34- STAT5  signaling</text>
<text transform="translate(314.2,225) rotate(-90)" font-size="7.3" font-weight="bold" text-anchor="middle" fill="#222" stroke="#222" stroke-width="0.15">Fold increase</text>
<text transform="translate(322,225) rotate(-90)" font-size="6.6" font-weight="bold" text-anchor="middle" fill="#222" stroke="#222" stroke-width="0.15">(Median FI)</text>
<text x="362.60" y="295.90" font-size="7" text-anchor="middle" font-weight="bold" fill="#111" stroke="#111" stroke-width="0.12">Normal</text>
<text x="393.30" y="295.90" font-size="7" text-anchor="middle" font-weight="bold" fill="#111" stroke="#111" stroke-width="0.12">PV</text>
<text x="424.60" y="295.90" font-size="7" text-anchor="middle" font-weight="bold" fill="#111" stroke="#111" stroke-width="0.12">ET</text>
<text x="459.60" y="295.90" font-size="7" text-anchor="middle" font-weight="bold" fill="#111" stroke="#111" stroke-width="0.12">MF</text>
<text x="493.70" y="295.90" font-size="7" text-anchor="middle" font-weight="bold" fill="#111" stroke="#111" stroke-width="0.12">CML</text>
<text x="350.40" y="304.10" font-size="6.0" text-anchor="start" font-weight="bold" fill="#111" stroke="#111" stroke-width="0.12" textLength="5.8" lengthAdjust="spacingAndGlyphs">n=</text>
<text x="362.00" y="304.10" font-size="6.0" text-anchor="middle" font-weight="bold" fill="#111" stroke="#111" stroke-width="0.12">6</text>
<text x="394.60" y="304.10" font-size="6.0" text-anchor="middle" font-weight="bold" fill="#111" stroke="#111" stroke-width="0.12">10</text>
<text x="425.90" y="304.10" font-size="6.0" text-anchor="middle" font-weight="bold" fill="#111" stroke="#111" stroke-width="0.12">13</text>
<text x="460.00" y="304.10" font-size="6.0" text-anchor="middle" font-weight="bold" fill="#111" stroke="#111" stroke-width="0.12">8</text>
<text x="496.20" y="304.10" font-size="6.0" text-anchor="middle" font-weight="bold" fill="#111" stroke="#111" stroke-width="0.12">6</text>
<text x="505.80" y="304.10" font-size="6.0" text-anchor="start" font-weight="bold" fill="#111" stroke="#111" stroke-width="0.12">= 43</text>
<path d="M357.9,184.8 V181.4 H484.4 V184.8" fill="none" stroke="#0a0a0a" stroke-width="1.15"/>
<text x="358.20" y="179.80" font-size="6.6" text-anchor="start" font-weight="bold" fill="#111" stroke="#111" stroke-width="0.1">p=0.004**</text>
<path d="M357.9,207.4 V204 H448.4 V207.4" fill="none" stroke="#0a0a0a" stroke-width="1.15"/>
<text x="360.20" y="202.40" font-size="6.6" text-anchor="start" font-weight="bold" fill="#111" stroke="#111" stroke-width="0.1">p=0.03*</text>
<path d="M357.9,218.20000000000002 V214.8 H389.6 V218.20000000000002" fill="none" stroke="#0a0a0a" stroke-width="1.15"/>
<text x="359.60" y="213.20" font-size="6.6" text-anchor="start" font-weight="bold" fill="#111" stroke="#111" stroke-width="0.1">p=0.01*</text>
<path d="M402.4,226.6 V223.2 H424.6 V226.6" fill="none" stroke="#0a0a0a" stroke-width="1.15"/>
<text x="404.40" y="221.60" font-size="6.6" text-anchor="start" font-weight="bold" fill="#111" stroke="#111" stroke-width="0.1">p=0.05*</text>
<path d="M358.4,422.90999999999997 V421.194 M351.79999999999995,421.194 H365.0" stroke="#0a0a0a" stroke-width="2.2" fill="none"/>
<rect x="347.20" y="423.11" width="22.40" height="4.09" fill="#1428c8" stroke="#0a0a0a" stroke-width="2.2"/>
<path d="M358.4,427.2 v3.8" stroke="#0a0a0a" stroke-width="1.7"/>
<path d="M392.8,421.194 V419.192 M386.2,419.192 H399.40000000000003" stroke="#0a0a0a" stroke-width="2.2" fill="none"/>
<rect x="381.60" y="421.39" width="22.40" height="5.81" fill="#e63a3a" stroke="#0a0a0a" stroke-width="2.2"/>
<path d="M392.8,427.2 v3.8" stroke="#0a0a0a" stroke-width="1.7"/>
<path d="M426.6,409.754 V403.462 M420.0,403.462 H433.20000000000005" stroke="#0a0a0a" stroke-width="2.2" fill="none"/>
<rect x="415.40" y="409.95" width="22.40" height="17.25" fill="#ffff14" stroke="#0a0a0a" stroke-width="2.2"/>
<path d="M426.6,427.2 v3.8" stroke="#0a0a0a" stroke-width="1.7"/>
<path d="M461.0,402.604 V395.168 M454.4,395.168 H467.6" stroke="#0a0a0a" stroke-width="2.2" fill="none"/>
<rect x="449.80" y="402.80" width="22.40" height="24.40" fill="#14f014" stroke="#0a0a0a" stroke-width="2.2"/>
<path d="M461.0,427.2 v3.8" stroke="#0a0a0a" stroke-width="1.7"/>
<path d="M495.5,416.618 V412.328 M488.9,412.328 H502.1" stroke="#0a0a0a" stroke-width="2.2" fill="none"/>
<rect x="484.30" y="416.82" width="22.40" height="10.38" fill="#4b0a96" stroke="#0a0a0a" stroke-width="2.2"/>
<path d="M495.5,427.2 v3.8" stroke="#0a0a0a" stroke-width="1.7"/>
<path d="M340,311.70000000000005 V427.2 H512.6" fill="none" stroke="#0a0a0a" stroke-width="2.1"/>
<path d="M335.6,427.2 H340" stroke="#0a0a0a" stroke-width="1.6"/>
<text x="335.05" y="429.47" font-size="6.3" text-anchor="end" font-weight="bold" fill="#111" letter-spacing="0.45" stroke="#111" stroke-width="0.15">1.0</text>
<path d="M335.6,398.59999999999997 H340" stroke="#0a0a0a" stroke-width="1.6"/>
<text x="335.05" y="400.87" font-size="6.3" text-anchor="end" font-weight="bold" fill="#111" letter-spacing="0.45" stroke="#111" stroke-width="0.15">1.5</text>
<path d="M335.6,370.0 H340" stroke="#0a0a0a" stroke-width="1.6"/>
<text x="335.05" y="372.27" font-size="6.3" text-anchor="end" font-weight="bold" fill="#111" letter-spacing="0.45" stroke="#111" stroke-width="0.15">2.0</text>
<path d="M335.6,341.4 H340" stroke="#0a0a0a" stroke-width="1.6"/>
<text x="335.05" y="343.67" font-size="6.3" text-anchor="end" font-weight="bold" fill="#111" letter-spacing="0.45" stroke="#111" stroke-width="0.15">2.5</text>
<path d="M335.6,312.79999999999995 H340" stroke="#0a0a0a" stroke-width="1.6"/>
<text x="335.05" y="315.07" font-size="6.3" text-anchor="end" font-weight="bold" fill="#111" letter-spacing="0.45" stroke="#111" stroke-width="0.15">3.0</text>
<text x="382.60" y="318.60" font-size="7.6" text-anchor="start" font-weight="bold" fill="#222" xml:space="preserve" stroke="#222" stroke-width="0.1" textLength="86.6" lengthAdjust="spacingAndGlyphs">CD34- STAT3 signaling</text>
<text transform="translate(314.2,367.7) rotate(-90)" font-size="7.3" font-weight="bold" text-anchor="middle" fill="#222" stroke="#222" stroke-width="0.15">Fold increase</text>
<text transform="translate(322,367.7) rotate(-90)" font-size="6.6" font-weight="bold" text-anchor="middle" fill="#222" stroke="#222" stroke-width="0.15">(Median FI)</text>
<text x="362.60" y="438.30" font-size="7" text-anchor="middle" font-weight="bold" fill="#111" stroke="#111" stroke-width="0.12">Normal</text>
<text x="393.30" y="438.30" font-size="7" text-anchor="middle" font-weight="bold" fill="#111" stroke="#111" stroke-width="0.12">PV</text>
<text x="424.60" y="438.30" font-size="7" text-anchor="middle" font-weight="bold" fill="#111" stroke="#111" stroke-width="0.12">ET</text>
<text x="459.60" y="438.30" font-size="7" text-anchor="middle" font-weight="bold" fill="#111" stroke="#111" stroke-width="0.12">MF</text>
<text x="493.70" y="438.30" font-size="7" text-anchor="middle" font-weight="bold" fill="#111" stroke="#111" stroke-width="0.12">CML</text>
<text x="350.40" y="447.20" font-size="6.0" text-anchor="start" font-weight="bold" fill="#111" stroke="#111" stroke-width="0.12" textLength="5.8" lengthAdjust="spacingAndGlyphs">n=</text>
<text x="362.00" y="447.20" font-size="6.0" text-anchor="middle" font-weight="bold" fill="#111" stroke="#111" stroke-width="0.12">6</text>
<text x="394.60" y="447.20" font-size="6.0" text-anchor="middle" font-weight="bold" fill="#111" stroke="#111" stroke-width="0.12">10</text>
<text x="425.90" y="447.20" font-size="6.0" text-anchor="middle" font-weight="bold" fill="#111" stroke="#111" stroke-width="0.12">13</text>
<text x="460.00" y="447.20" font-size="6.0" text-anchor="middle" font-weight="bold" fill="#111" stroke="#111" stroke-width="0.12">8</text>
<text x="496.20" y="447.20" font-size="6.0" text-anchor="middle" font-weight="bold" fill="#111" stroke="#111" stroke-width="0.12">6</text>
<text x="505.80" y="447.20" font-size="6.0" text-anchor="start" font-weight="bold" fill="#111" stroke="#111" stroke-width="0.12">= 43</text>
<path d="M357,385.0 V381.6 H454.6 V385.0" fill="none" stroke="#0a0a0a" stroke-width="1.15"/>
<text x="358.80" y="380.00" font-size="6.6" text-anchor="start" font-weight="bold" fill="#111" stroke="#111" stroke-width="0.1">p=0.03*</text>
<path d="M391.3,394.9 V391.5 H454.6 V394.9" fill="none" stroke="#0a0a0a" stroke-width="1.15"/>
<text x="394.60" y="389.90" font-size="6.6" text-anchor="start" font-weight="bold" fill="#111" stroke="#111" stroke-width="0.1">p=0.026*</text>
<text x="0.50" y="464.60" font-size="11.6" text-anchor="start" font-weight="bold" fill="#000" >B</text>
<text x="61.80" y="499.80" font-size="6.8" text-anchor="end" font-weight="bold" fill="#000" stroke="#000" stroke-width="0.1">Patient Number</text>
<text x="61.80" y="523.40" font-size="6.8" text-anchor="end" font-weight="bold" fill="#000" stroke="#000" stroke-width="0.1">P-ERK</text>
<text x="61.80" y="547.90" font-size="6.8" text-anchor="end" font-weight="bold" fill="#000" stroke="#000" stroke-width="0.1">P-STAT5</text>
<text x="61.80" y="576.20" font-size="6.8" text-anchor="end" font-weight="bold" fill="#000" stroke="#000" stroke-width="0.1">P-STAT3</text>
<text x="61.80" y="603.80" font-size="6.8" text-anchor="end" font-weight="bold" fill="#000" stroke="#000" stroke-width="0.1">P-AKT</text>
<text x="61.80" y="624.70" font-size="6.8" text-anchor="end" font-weight="bold" fill="#000" stroke="#000" stroke-width="0.1">JAK2 Allele Burden</text>
<rect x="67.0" y="501.8" width="451.93000000000006" height="110.69999999999999" fill="#300000"/>
<rect x="67.00" y="501.80" width="11.21" height="28.10" fill="#3a0000"/>
<rect x="77.51" y="501.80" width="11.21" height="28.10" fill="#580000"/>
<rect x="88.02" y="501.80" width="11.21" height="28.10" fill="#300000"/>
<rect x="98.53" y="501.80" width="11.21" height="28.10" fill="#800808"/>
<rect x="109.04" y="501.80" width="11.21" height="28.10" fill="#100000"/>
<rect x="119.55" y="501.80" width="11.21" height="28.10" fill="#800808"/>
<rect x="67.00" y="529.40" width="11.21" height="28.10" fill="#600000"/>
<rect x="77.51" y="529.40" width="11.21" height="28.10" fill="#ff1010"/>
<rect x="88.02" y="529.40" width="11.21" height="28.10" fill="#700505"/>
<rect x="98.53" y="529.40" width="11.21" height="28.10" fill="#100000"/>
<rect x="109.04" y="529.40" width="11.21" height="28.10" fill="#0a0000"/>
<rect x="119.55" y="529.40" width="11.21" height="28.10" fill="#ffa010"/>
<rect x="67.00" y="557.00" width="11.21" height="28.30" fill="#180000"/>
<rect x="77.51" y="557.00" width="11.21" height="28.30" fill="#300000"/>
<rect x="88.02" y="557.00" width="11.21" height="28.30" fill="#280000"/>
<rect x="98.53" y="557.00" width="11.21" height="28.30" fill="#380000"/>
<rect x="109.04" y="557.00" width="11.21" height="28.30" fill="#280000"/>
<rect x="119.55" y="557.00" width="11.21" height="28.30" fill="#200000"/>
<rect x="67.00" y="584.80" width="11.21" height="27.70" fill="#680000"/>
<rect x="77.51" y="584.80" width="11.21" height="27.70" fill="#b00808"/>
<rect x="88.02" y="584.80" width="11.21" height="27.70" fill="#200000"/>
<rect x="98.53" y="584.80" width="11.21" height="27.70" fill="#680000"/>
<rect x="109.04" y="584.80" width="11.21" height="27.70" fill="#ff3a10"/>
<rect x="119.55" y="584.80" width="11.21" height="27.70" fill="#180000"/>
<text x="98.90" y="491.60" font-size="7.0" text-anchor="middle" font-weight="bold" fill="#000" stroke="#000" stroke-width="0.12">Normal</text>
<text x="71.20" y="499.90" font-size="6.9" text-anchor="middle" font-weight="bold" fill="#000" stroke="#000" stroke-width="0.15" >1</text>
<text x="83.60" y="499.90" font-size="6.9" text-anchor="middle" font-weight="bold" fill="#000" stroke="#000" stroke-width="0.15" >2</text>
<text x="92.80" y="499.90" font-size="6.9" text-anchor="middle" font-weight="bold" fill="#000" stroke="#000" stroke-width="0.15" >3</text>
<text x="103.80" y="499.90" font-size="6.9" text-anchor="middle" font-weight="bold" fill="#000" stroke="#000" stroke-width="0.15" >4</text>
<text x="113.90" y="499.90" font-size="6.9" text-anchor="middle" font-weight="bold" fill="#000" stroke="#000" stroke-width="0.15" >5</text>
<text x="124.40" y="499.90" font-size="6.9" text-anchor="middle" font-weight="bold" fill="#000" stroke="#000" stroke-width="0.15" >6</text>
<text x="96.30" y="621.90" font-size="6.3" text-anchor="middle" font-weight="bold" fill="#000" stroke="#000" stroke-width="0.15">W T</text>
<rect x="130.06" y="501.80" width="11.21" height="28.10" fill="#6a0000"/>
<rect x="140.57" y="501.80" width="11.21" height="28.10" fill="#7a0505"/>
<rect x="151.08" y="501.80" width="11.21" height="28.10" fill="#150000"/>
<rect x="161.59" y="501.80" width="11.21" height="28.10" fill="#550000"/>
<rect x="172.10" y="501.80" width="11.21" height="28.10" fill="#5a0000"/>
<rect x="182.61" y="501.80" width="11.21" height="28.10" fill="#800808"/>
<rect x="193.12" y="501.80" width="11.21" height="28.10" fill="#7a0808"/>
<rect x="203.63" y="501.80" width="11.21" height="28.10" fill="#0a0000"/>
<rect x="214.14" y="501.80" width="11.21" height="28.10" fill="#d00808"/>
<rect x="224.65" y="501.80" width="11.21" height="28.10" fill="#ee0a0a"/>
<rect x="130.06" y="529.40" width="11.21" height="28.10" fill="#7a0000"/>
<rect x="140.57" y="529.40" width="11.21" height="28.10" fill="#ffffff"/>
<rect x="151.08" y="529.40" width="11.21" height="28.10" fill="#fff890"/>
<rect x="161.59" y="529.40" width="11.21" height="28.10" fill="#ffff80"/>
<rect x="172.10" y="529.40" width="11.21" height="28.10" fill="#ffffff"/>
<rect x="182.61" y="529.40" width="11.21" height="28.10" fill="#ffffa8"/>
<rect x="193.12" y="529.40" width="11.21" height="28.10" fill="#ffff00"/>
<rect x="203.63" y="529.40" width="11.21" height="28.10" fill="#ff6a00"/>
<rect x="214.14" y="529.40" width="11.21" height="28.10" fill="#ffb400"/>
<rect x="224.65" y="529.40" width="11.21" height="28.10" fill="#ff5a00"/>
<rect x="130.06" y="557.00" width="11.21" height="28.30" fill="#2a0000"/>
<rect x="140.57" y="557.00" width="11.21" height="28.30" fill="#2a0000"/>
<rect x="151.08" y="557.00" width="11.21" height="28.30" fill="#1a0000"/>
<rect x="161.59" y="557.00" width="11.21" height="28.30" fill="#2a0000"/>
<rect x="172.10" y="557.00" width="11.21" height="28.30" fill="#2a0000"/>
<rect x="182.61" y="557.00" width="11.21" height="28.30" fill="#2a0000"/>
<rect x="193.12" y="557.00" width="11.21" height="28.30" fill="#5a0000"/>
<rect x="203.63" y="557.00" width="11.21" height="28.30" fill="#5a0000"/>
<rect x="214.14" y="557.00" width="11.21" height="28.30" fill="#550000"/>
<rect x="224.65" y="557.00" width="11.21" height="28.30" fill="#400000"/>
<rect x="130.06" y="584.80" width="11.21" height="27.70" fill="#800000"/>
<rect x="140.57" y="584.80" width="11.21" height="27.70" fill="#c00505"/>
<rect x="151.08" y="584.80" width="11.21" height="27.70" fill="#c80505"/>
<rect x="161.59" y="584.80" width="11.21" height="27.70" fill="#500000"/>
<rect x="172.10" y="584.80" width="11.21" height="27.70" fill="#780000"/>
<rect x="182.61" y="584.80" width="11.21" height="27.70" fill="#600000"/>
<rect x="193.12" y="584.80" width="11.21" height="27.70" fill="#c80808"/>
<rect x="203.63" y="584.80" width="11.21" height="27.70" fill="#e00808"/>
<rect x="214.14" y="584.80" width="11.21" height="27.70" fill="#a80505"/>
<rect x="224.65" y="584.80" width="11.21" height="27.70" fill="#800000"/>
<text x="174.00" y="491.60" font-size="7.0" text-anchor="middle" font-weight="bold" fill="#000" stroke="#000" stroke-width="0.12">PV</text>
<text x="134.30" y="499.90" font-size="6.9" text-anchor="middle" font-weight="bold" fill="#000" stroke="#000" stroke-width="0.15" >1</text>
<text x="145.30" y="499.90" font-size="6.9" text-anchor="middle" font-weight="bold" fill="#000" stroke="#000" stroke-width="0.15" >2</text>
<text x="155.70" y="499.90" font-size="6.9" text-anchor="middle" font-weight="bold" fill="#000" stroke="#000" stroke-width="0.15" >3</text>
<text x="166.50" y="499.90" font-size="6.9" text-anchor="middle" font-weight="bold" fill="#000" stroke="#000" stroke-width="0.15" >4</text>
<text x="176.90" y="499.90" font-size="6.9" text-anchor="middle" font-weight="bold" fill="#000" stroke="#000" stroke-width="0.15" >5</text>
<text x="186.90" y="499.90" font-size="6.9" text-anchor="middle" font-weight="bold" fill="#000" stroke="#000" stroke-width="0.15" >6</text>
<text x="198.30" y="499.90" font-size="6.9" text-anchor="middle" font-weight="bold" fill="#000" stroke="#000" stroke-width="0.15" >7</text>
<text x="209.10" y="499.90" font-size="6.9" text-anchor="middle" font-weight="bold" fill="#000" stroke="#000" stroke-width="0.15" >8</text>
<text x="219.50" y="499.90" font-size="6.9" text-anchor="middle" font-weight="bold" fill="#000" stroke="#000" stroke-width="0.15" >9</text>
<text x="228.90" y="499.90" font-size="6.9" text-anchor="middle" font-weight="bold" fill="#000" stroke="#000" stroke-width="0.15" textLength="7.8" lengthAdjust="spacingAndGlyphs">10</text>
<text x="131.65" y="622.10" font-size="8" text-anchor="start" font-weight="bold" fill="#111" textLength="7.3" lengthAdjust="spacingAndGlyphs" stroke="#111" stroke-width="0.12">61%</text>
<text x="141.45" y="622.10" font-size="8" text-anchor="start" font-weight="bold" fill="#111" textLength="7.3" lengthAdjust="spacingAndGlyphs" stroke="#111" stroke-width="0.12">24%</text>
<text x="152.65" y="622.10" font-size="8" text-anchor="start" font-weight="bold" fill="#111" textLength="7.3" lengthAdjust="spacingAndGlyphs" stroke="#111" stroke-width="0.12">70%</text>
<text x="163.35" y="622.10" font-size="8" text-anchor="start" font-weight="bold" fill="#111" textLength="7.3" lengthAdjust="spacingAndGlyphs" stroke="#111" stroke-width="0.12">67%</text>
<text x="173.15" y="622.10" font-size="8" text-anchor="start" font-weight="bold" fill="#111" textLength="7.3" lengthAdjust="spacingAndGlyphs" stroke="#111" stroke-width="0.12">50%</text>
<text x="184.95" y="622.10" font-size="8" text-anchor="start" font-weight="bold" fill="#111" textLength="7.3" lengthAdjust="spacingAndGlyphs" stroke="#111" stroke-width="0.12">50%</text>
<text x="196.20" y="622.10" font-size="8" text-anchor="start" font-weight="bold" fill="#111" textLength="6.0" lengthAdjust="spacingAndGlyphs" stroke="#111" stroke-width="0.12">ND</text>
<text x="204.60" y="622.10" font-size="8" text-anchor="start" font-weight="bold" fill="#111" textLength="6.0" lengthAdjust="spacingAndGlyphs" stroke="#111" stroke-width="0.12">ND</text>
<text x="215.15" y="622.10" font-size="8" text-anchor="start" font-weight="bold" fill="#111" textLength="7.3" lengthAdjust="spacingAndGlyphs" stroke="#111" stroke-width="0.12">42%</text>
<text x="225.65" y="622.10" font-size="8" text-anchor="start" font-weight="bold" fill="#111" textLength="7.3" lengthAdjust="spacingAndGlyphs" stroke="#111" stroke-width="0.12">61%</text>
<rect x="235.16" y="501.80" width="11.21" height="28.10" fill="#5a0000"/>
<rect x="245.67" y="501.80" width="11.21" height="28.10" fill="#6a0000"/>
<rect x="256.18" y="501.80" width="11.21" height="28.10" fill="#100000"/>
<rect x="266.69" y="501.80" width="11.21" height="28.10" fill="#b80808"/>
<rect x="277.20" y="501.80" width="11.21" height="28.10" fill="#780000"/>
<rect x="287.71" y="501.80" width="11.21" height="28.10" fill="#780505"/>
<rect x="298.22" y="501.80" width="11.21" height="28.10" fill="#500000"/>
<rect x="308.73" y="501.80" width="11.21" height="28.10" fill="#c80808"/>
<rect x="319.24" y="501.80" width="11.21" height="28.10" fill="#5a0000"/>
<rect x="329.75" y="501.80" width="11.21" height="28.10" fill="#ff3010"/>
<rect x="340.26" y="501.80" width="11.21" height="28.10" fill="#a80808"/>
<rect x="350.77" y="501.80" width="11.21" height="28.10" fill="#740000"/>
<rect x="361.28" y="501.80" width="11.21" height="28.10" fill="#b80808"/>
<rect x="235.16" y="529.40" width="11.21" height="28.10" fill="#0a0000"/>
<rect x="245.67" y="529.40" width="11.21" height="28.10" fill="#ff6a10"/>
<rect x="256.18" y="529.40" width="11.21" height="28.10" fill="#c80a0a"/>
<rect x="266.69" y="529.40" width="11.21" height="28.10" fill="#d00a0a"/>
<rect x="277.20" y="529.40" width="11.21" height="28.10" fill="#ff2a10"/>
<rect x="287.71" y="529.40" width="11.21" height="28.10" fill="#b80808"/>
<rect x="298.22" y="529.40" width="11.21" height="28.10" fill="#ff2a10"/>
<rect x="308.73" y="529.40" width="11.21" height="28.10" fill="#ffc810"/>
<rect x="319.24" y="529.40" width="11.21" height="28.10" fill="#c80808"/>
<rect x="329.75" y="529.40" width="11.21" height="28.10" fill="#ffc810"/>
<rect x="340.26" y="529.40" width="11.21" height="28.10" fill="#ffc810"/>
<rect x="350.77" y="529.40" width="11.21" height="28.10" fill="#ffffff"/>
<rect x="361.28" y="529.40" width="11.21" height="28.10" fill="#ffffff"/>
<rect x="235.16" y="557.00" width="11.21" height="28.30" fill="#300000"/>
<rect x="245.67" y="557.00" width="11.21" height="28.30" fill="#200000"/>
<rect x="256.18" y="557.00" width="11.21" height="28.30" fill="#180000"/>
<rect x="266.69" y="557.00" width="11.21" height="28.30" fill="#300000"/>
<rect x="277.20" y="557.00" width="11.21" height="28.30" fill="#180000"/>
<rect x="287.71" y="557.00" width="11.21" height="28.30" fill="#200000"/>
<rect x="298.22" y="557.00" width="11.21" height="28.30" fill="#100000"/>
<rect x="308.73" y="557.00" width="11.21" height="28.30" fill="#a00505"/>
<rect x="319.24" y="557.00" width="11.21" height="28.30" fill="#600000"/>
<rect x="329.75" y="557.00" width="11.21" height="28.30" fill="#500000"/>
<rect x="340.26" y="557.00" width="11.21" height="28.30" fill="#400000"/>
<rect x="350.77" y="557.00" width="11.21" height="28.30" fill="#ff2a10"/>
<rect x="361.28" y="557.00" width="11.21" height="28.30" fill="#f02010"/>
<rect x="235.16" y="584.80" width="11.21" height="27.70" fill="#500000"/>
<rect x="245.67" y="584.80" width="11.21" height="27.70" fill="#600000"/>
<rect x="256.18" y="584.80" width="11.21" height="27.70" fill="#900505"/>
<rect x="266.69" y="584.80" width="11.21" height="27.70" fill="#600000"/>
<rect x="277.20" y="584.80" width="11.21" height="27.70" fill="#600000"/>
<rect x="287.71" y="584.80" width="11.21" height="27.70" fill="#500000"/>
<rect x="298.22" y="584.80" width="11.21" height="27.70" fill="#600000"/>
<rect x="308.73" y="584.80" width="11.21" height="27.70" fill="#900505"/>
<rect x="319.24" y="584.80" width="11.21" height="27.70" fill="#900505"/>
<rect x="329.75" y="584.80" width="11.21" height="27.70" fill="#900505"/>
<rect x="340.26" y="584.80" width="11.21" height="27.70" fill="#800000"/>
<rect x="350.77" y="584.80" width="11.21" height="27.70" fill="#ff5a10"/>
<rect x="361.28" y="584.80" width="11.21" height="27.70" fill="#ffc010"/>
<text x="292.70" y="491.60" font-size="7.0" text-anchor="middle" font-weight="bold" fill="#000" stroke="#000" stroke-width="0.12">ET</text>
<text x="238.90" y="499.90" font-size="6.9" text-anchor="middle" font-weight="bold" fill="#000" stroke="#000" stroke-width="0.15" >1</text>
<text x="250.90" y="499.90" font-size="6.9" text-anchor="middle" font-weight="bold" fill="#000" stroke="#000" stroke-width="0.15" >2</text>
<text x="262.00" y="499.90" font-size="6.9" text-anchor="middle" font-weight="bold" fill="#000" stroke="#000" stroke-width="0.15" >3</text>
<text x="271.80" y="499.90" font-size="6.9" text-anchor="middle" font-weight="bold" fill="#000" stroke="#000" stroke-width="0.15" >4</text>
<text x="282.10" y="499.90" font-size="6.9" text-anchor="middle" font-weight="bold" fill="#000" stroke="#000" stroke-width="0.15" >5</text>
<text x="291.00" y="499.90" font-size="6.9" text-anchor="middle" font-weight="bold" fill="#000" stroke="#000" stroke-width="0.15" >6</text>
<text x="301.90" y="499.90" font-size="6.9" text-anchor="middle" font-weight="bold" fill="#000" stroke="#000" stroke-width="0.15" >7</text>
<text x="312.30" y="499.90" font-size="6.9" text-anchor="middle" font-weight="bold" fill="#000" stroke="#000" stroke-width="0.15" >8</text>
<text x="323.30" y="499.90" font-size="6.9" text-anchor="middle" font-weight="bold" fill="#000" stroke="#000" stroke-width="0.15" >9</text>
<text x="333.20" y="499.90" font-size="6.9" text-anchor="middle" font-weight="bold" fill="#000" stroke="#000" stroke-width="0.15" textLength="7.8" lengthAdjust="spacingAndGlyphs">10</text>
<text x="343.00" y="499.90" font-size="6.9" text-anchor="middle" font-weight="bold" fill="#000" stroke="#000" stroke-width="0.15" textLength="7.8" lengthAdjust="spacingAndGlyphs">11</text>
<text x="354.10" y="499.90" font-size="6.9" text-anchor="middle" font-weight="bold" fill="#000" stroke="#000" stroke-width="0.15" textLength="7.8" lengthAdjust="spacingAndGlyphs">12</text>
<text x="364.70" y="499.90" font-size="6.9" text-anchor="middle" font-weight="bold" fill="#000" stroke="#000" stroke-width="0.15" textLength="7.8" lengthAdjust="spacingAndGlyphs">13</text>
<text x="236.15" y="622.10" font-size="8" text-anchor="start" font-weight="bold" fill="#111" textLength="7.3" lengthAdjust="spacingAndGlyphs" stroke="#111" stroke-width="0.12">29%</text>
<text x="247.90" y="622.10" font-size="8" text-anchor="start" font-weight="bold" fill="#111" textLength="6.0" lengthAdjust="spacingAndGlyphs" stroke="#111" stroke-width="0.12">WT</text>
<text x="258.20" y="622.10" font-size="8" text-anchor="start" font-weight="bold" fill="#111" textLength="6.0" lengthAdjust="spacingAndGlyphs" stroke="#111" stroke-width="0.12">WT</text>
<text x="268.30" y="622.10" font-size="8" text-anchor="start" font-weight="bold" fill="#111" textLength="6.0" lengthAdjust="spacingAndGlyphs" stroke="#111" stroke-width="0.12">WT</text>
<text x="277.95" y="622.10" font-size="8" text-anchor="start" font-weight="bold" fill="#111" textLength="7.3" lengthAdjust="spacingAndGlyphs" stroke="#111" stroke-width="0.12">27%</text>
<text x="288.90" y="622.10" font-size="8" text-anchor="start" font-weight="bold" fill="#111" textLength="6.0" lengthAdjust="spacingAndGlyphs" stroke="#111" stroke-width="0.12">WT</text>
<text x="298.90" y="622.10" font-size="8" text-anchor="start" font-weight="bold" fill="#111" textLength="6.0" lengthAdjust="spacingAndGlyphs" stroke="#111" stroke-width="0.12">WT</text>
<text x="309.80" y="622.10" font-size="8" text-anchor="start" font-weight="bold" fill="#111" textLength="6.0" lengthAdjust="spacingAndGlyphs" stroke="#111" stroke-width="0.12">WT</text>
<text x="319.90" y="622.10" font-size="8" text-anchor="start" font-weight="bold" fill="#111" textLength="6.0" lengthAdjust="spacingAndGlyphs" stroke="#111" stroke-width="0.12">WT</text>
<text x="330.20" y="622.10" font-size="8" text-anchor="start" font-weight="bold" fill="#111" textLength="6.0" lengthAdjust="spacingAndGlyphs" stroke="#111" stroke-width="0.12">WT</text>
<text x="340.45" y="622.10" font-size="8" text-anchor="start" font-weight="bold" fill="#111" textLength="7.3" lengthAdjust="spacingAndGlyphs" stroke="#111" stroke-width="0.12">50%</text>
<text x="350.65" y="622.10" font-size="8" text-anchor="start" font-weight="bold" fill="#111" textLength="7.3" lengthAdjust="spacingAndGlyphs" stroke="#111" stroke-width="0.12">24%</text>
<text x="361.70" y="622.10" font-size="8" text-anchor="start" font-weight="bold" fill="#111" textLength="6.0" lengthAdjust="spacingAndGlyphs" stroke="#111" stroke-width="0.12">WT</text>
<rect x="371.79" y="501.80" width="11.21" height="28.10" fill="#900000"/>
<rect x="382.30" y="501.80" width="11.21" height="28.10" fill="#900000"/>
<rect x="392.81" y="501.80" width="11.21" height="28.10" fill="#c80808"/>
<rect x="403.32" y="501.80" width="11.21" height="28.10" fill="#b00505"/>
<rect x="413.83" y="501.80" width="11.21" height="28.10" fill="#c80808"/>
<rect x="424.34" y="501.80" width="11.21" height="28.10" fill="#300000"/>
<rect x="434.85" y="501.80" width="11.21" height="28.10" fill="#a00505"/>
<rect x="445.36" y="501.80" width="11.21" height="28.10" fill="#ff1010"/>
<rect x="371.79" y="529.40" width="11.21" height="28.10" fill="#ffe020"/>
<rect x="382.30" y="529.40" width="11.21" height="28.10" fill="#ffb010"/>
<rect x="392.81" y="529.40" width="11.21" height="28.10" fill="#300000"/>
<rect x="403.32" y="529.40" width="11.21" height="28.10" fill="#ffffff"/>
<rect x="413.83" y="529.40" width="11.21" height="28.10" fill="#ff1a10"/>
<rect x="424.34" y="529.40" width="11.21" height="28.10" fill="#ff4010"/>
<rect x="434.85" y="529.40" width="11.21" height="28.10" fill="#e01010"/>
<rect x="445.36" y="529.40" width="11.21" height="28.10" fill="#ffff60"/>
<rect x="371.79" y="557.00" width="11.21" height="28.30" fill="#900000"/>
<rect x="382.30" y="557.00" width="11.21" height="28.30" fill="#ff1a10"/>
<rect x="392.81" y="557.00" width="11.21" height="28.30" fill="#300000"/>
<rect x="403.32" y="557.00" width="11.21" height="28.30" fill="#c00808"/>
<rect x="413.83" y="557.00" width="11.21" height="28.30" fill="#a80505"/>
<rect x="424.34" y="557.00" width="11.21" height="28.30" fill="#500000"/>
<rect x="434.85" y="557.00" width="11.21" height="28.30" fill="#200000"/>
<rect x="445.36" y="557.00" width="11.21" height="28.30" fill="#500000"/>
<rect x="371.79" y="584.80" width="11.21" height="27.70" fill="#800000"/>
<rect x="382.30" y="584.80" width="11.21" height="27.70" fill="#500000"/>
<rect x="392.81" y="584.80" width="11.21" height="27.70" fill="#500000"/>
<rect x="403.32" y="584.80" width="11.21" height="27.70" fill="#780000"/>
<rect x="413.83" y="584.80" width="11.21" height="27.70" fill="#780000"/>
<rect x="424.34" y="584.80" width="11.21" height="27.70" fill="#600000"/>
<rect x="434.85" y="584.80" width="11.21" height="27.70" fill="#300000"/>
<rect x="445.36" y="584.80" width="11.21" height="27.70" fill="#a00505"/>
<text x="411.80" y="491.60" font-size="7.0" text-anchor="middle" font-weight="bold" fill="#000" stroke="#000" stroke-width="0.12">MF</text>
<text x="373.90" y="499.90" font-size="6.9" text-anchor="middle" font-weight="bold" fill="#000" stroke="#000" stroke-width="0.15" >1</text>
<text x="383.60" y="499.90" font-size="6.9" text-anchor="middle" font-weight="bold" fill="#000" stroke="#000" stroke-width="0.15" >2</text>
<text x="395.60" y="499.90" font-size="6.9" text-anchor="middle" font-weight="bold" fill="#000" stroke="#000" stroke-width="0.15" >3</text>
<text x="406.70" y="499.90" font-size="6.9" text-anchor="middle" font-weight="bold" fill="#000" stroke="#000" stroke-width="0.15" >4</text>
<text x="417.10" y="499.90" font-size="6.9" text-anchor="middle" font-weight="bold" fill="#000" stroke="#000" stroke-width="0.15" >5</text>
<text x="427.00" y="499.90" font-size="6.9" text-anchor="middle" font-weight="bold" fill="#000" stroke="#000" stroke-width="0.15" >6</text>
<text x="438.00" y="499.90" font-size="6.9" text-anchor="middle" font-weight="bold" fill="#000" stroke="#000" stroke-width="0.15" >7</text>
<text x="449.30" y="499.90" font-size="6.9" text-anchor="middle" font-weight="bold" fill="#000" stroke="#000" stroke-width="0.15" >8</text>
<text x="372.50" y="622.10" font-size="8" text-anchor="start" font-weight="bold" fill="#111" textLength="6.0" lengthAdjust="spacingAndGlyphs" stroke="#111" stroke-width="0.12">WT</text>
<text x="383.20" y="622.10" font-size="8" text-anchor="start" font-weight="bold" fill="#111" textLength="6.0" lengthAdjust="spacingAndGlyphs" stroke="#111" stroke-width="0.12">WT</text>
<text x="392.65" y="622.10" font-size="8" text-anchor="start" font-weight="bold" fill="#111" textLength="7.3" lengthAdjust="spacingAndGlyphs" stroke="#111" stroke-width="0.12">95%</text>
<text x="402.65" y="622.10" font-size="8" text-anchor="start" font-weight="bold" fill="#111" textLength="7.3" lengthAdjust="spacingAndGlyphs" stroke="#111" stroke-width="0.12">66%</text>
<text x="414.00" y="622.10" font-size="8" text-anchor="start" font-weight="bold" fill="#111" textLength="6.0" lengthAdjust="spacingAndGlyphs" stroke="#111" stroke-width="0.12">ND</text>
<text x="423.35" y="622.10" font-size="8" text-anchor="start" font-weight="bold" fill="#111" textLength="7.3" lengthAdjust="spacingAndGlyphs" stroke="#111" stroke-width="0.12">64%</text>
<text x="435.70" y="622.10" font-size="8" text-anchor="start" font-weight="bold" fill="#111" textLength="6.0" lengthAdjust="spacingAndGlyphs" stroke="#111" stroke-width="0.12">WT</text>
<text x="444.50" y="622.10" font-size="8" text-anchor="start" font-weight="bold" fill="#111" textLength="6.0" lengthAdjust="spacingAndGlyphs" stroke="#111" stroke-width="0.12">WT</text>
<rect x="455.87" y="501.80" width="11.21" height="28.10" fill="#a00000"/>
<rect x="466.38" y="501.80" width="11.21" height="28.10" fill="#900000"/>
<rect x="476.89" y="501.80" width="11.21" height="28.10" fill="#800000"/>
<rect x="487.40" y="501.80" width="11.21" height="28.10" fill="#8a0000"/>
<rect x="497.91" y="501.80" width="11.21" height="28.10" fill="#a00000"/>
<rect x="508.42" y="501.80" width="10.51" height="28.10" fill="#c80505"/>
<rect x="455.87" y="529.40" width="11.21" height="28.10" fill="#ffd810"/>
<rect x="466.38" y="529.40" width="11.21" height="28.10" fill="#ffffff"/>
<rect x="476.89" y="529.40" width="11.21" height="28.10" fill="#ff1a10"/>
<rect x="487.40" y="529.40" width="11.21" height="28.10" fill="#ffffff"/>
<rect x="497.91" y="529.40" width="11.21" height="28.10" fill="#ffee10"/>
<rect x="508.42" y="529.40" width="10.51" height="28.10" fill="#ffffff"/>
<rect x="455.87" y="557.00" width="11.21" height="28.30" fill="#4a0000"/>
<rect x="466.38" y="557.00" width="11.21" height="28.30" fill="#400000"/>
<rect x="476.89" y="557.00" width="11.21" height="28.30" fill="#400000"/>
<rect x="487.40" y="557.00" width="11.21" height="28.30" fill="#300000"/>
<rect x="497.91" y="557.00" width="11.21" height="28.30" fill="#a00505"/>
<rect x="508.42" y="557.00" width="10.51" height="28.30" fill="#380000"/>
<rect x="455.87" y="584.80" width="11.21" height="27.70" fill="#800000"/>
<rect x="466.38" y="584.80" width="11.21" height="27.70" fill="#800000"/>
<rect x="476.89" y="584.80" width="11.21" height="27.70" fill="#700000"/>
<rect x="487.40" y="584.80" width="11.21" height="27.70" fill="#700000"/>
<rect x="497.91" y="584.80" width="11.21" height="27.70" fill="#a00000"/>
<rect x="508.42" y="584.80" width="10.51" height="27.70" fill="#980000"/>
<text x="481.80" y="491.60" font-size="7.0" text-anchor="middle" font-weight="bold" fill="#000" stroke="#000" stroke-width="0.12">CML</text>
<text x="458.30" y="499.90" font-size="6.9" text-anchor="middle" font-weight="bold" fill="#000" stroke="#000" stroke-width="0.15" >1</text>
<text x="467.90" y="499.90" font-size="6.9" text-anchor="middle" font-weight="bold" fill="#000" stroke="#000" stroke-width="0.15" >2</text>
<text x="477.50" y="499.90" font-size="6.9" text-anchor="middle" font-weight="bold" fill="#000" stroke="#000" stroke-width="0.15" >3</text>
<text x="487.80" y="499.90" font-size="6.9" text-anchor="middle" font-weight="bold" fill="#000" stroke="#000" stroke-width="0.15" >4</text>
<text x="498.40" y="499.90" font-size="6.9" text-anchor="middle" font-weight="bold" fill="#000" stroke="#000" stroke-width="0.15" >5</text>
<text x="508.00" y="499.90" font-size="6.9" text-anchor="middle" font-weight="bold" fill="#000" stroke="#000" stroke-width="0.15" >6</text>
<text x="480.60" y="621.90" font-size="6.3" text-anchor="middle" font-weight="bold" fill="#000" stroke="#000" stroke-width="0.15">W T</text>
<path d="M67.0,529.4 H518.9300000000001" stroke="#0a0000" stroke-width="0.8"/>
<path d="M67.0,557.0 H518.9300000000001" stroke="#0a0000" stroke-width="0.8"/>
<path d="M67.0,584.8 H518.9300000000001" stroke="#0a0000" stroke-width="0.8"/>
<path d="M130.06,485 V624.6" stroke="#000" stroke-width="1.3"/>
<path d="M235.16,485 V624.6" stroke="#000" stroke-width="1.3"/>
<path d="M371.78999999999996,485 V624.6" stroke="#000" stroke-width="1.3"/>
<path d="M455.86999999999995,485 V624.6" stroke="#000" stroke-width="1.3"/>
<rect x="67.0" y="485" width="451.93000000000006" height="139.6" fill="none" stroke="#000" stroke-width="1.4"/>
<path d="M67.0,612.5 H518.9300000000001" stroke="#000" stroke-width="1.1"/>
<path d="M515.2,543.4 h3.4" stroke="#666" stroke-width="0.6"/>
<rect x="69.3" y="641" width="135.4" height="8.8" fill="url(#hot)" stroke="#000" stroke-width="0.7"/><path d="M137.6,641 v8.8" stroke="#300" stroke-width="0.5" opacity="0.6"/>
<text x="71.60" y="655.60" font-size="4.4" text-anchor="middle" font-weight="bold" fill="#000" stroke="#000" stroke-width="0.15">1.0</text>
<text x="93.80" y="655.60" font-size="4.4" text-anchor="middle" font-weight="bold" fill="#000" stroke="#000" stroke-width="0.15">1.5</text>
<text x="116.00" y="655.60" font-size="4.4" text-anchor="middle" font-weight="bold" fill="#000" stroke="#000" stroke-width="0.15">2.0</text>
<text x="138.20" y="655.60" font-size="4.4" text-anchor="middle" font-weight="bold" fill="#000" stroke="#000" stroke-width="0.15">2.5</text>
<text x="160.40" y="655.60" font-size="4.4" text-anchor="middle" font-weight="bold" fill="#000" stroke="#000" stroke-width="0.15">3.0</text>
<text x="182.60" y="655.60" font-size="4.4" text-anchor="middle" font-weight="bold" fill="#000" stroke="#000" stroke-width="0.15">3.5</text>
<text x="204.80" y="655.60" font-size="4.4" text-anchor="middle" font-weight="bold" fill="#000" stroke="#000" stroke-width="0.15">4.0</text>
</g>
</svg>
</body>
</html>
